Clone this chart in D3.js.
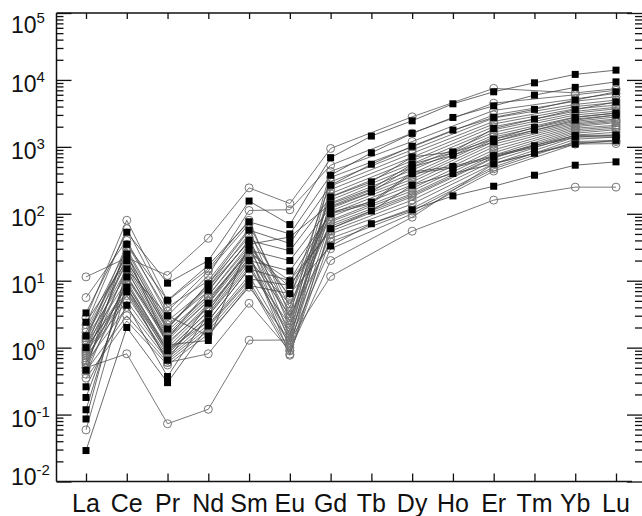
<!DOCTYPE html>
<html>
<head>
<meta charset="utf-8">
<script src="https://cdn.jsdelivr.net/npm/d3@7"></script>
<style>
  html, body { margin: 0; padding: 0; background: #fff; }
  svg { display: block; font-family: "Liberation Sans", Arial, sans-serif; }
</style>
</head>
<body>
<svg id="chart" width="642" height="516"></svg>
<script>
// Rare earth elements along the x axis
const elements = ["La", "Ce", "Pr", "Nd", "Sm", "Eu", "Gd", "Tb", "Dy", "Ho", "Er", "Tm", "Yb", "Lu"];

// Decade exponents used for the y tick labels
const decadeExponents = [5, 4, 3, 2, 1, 0, -1, -2];

// Open-circle analyses (Tb, Ho, Tm not determined)
//            La     Ce    Pr     Nd    Sm    Eu    Gd    Tb    Dy    Ho    Er    Tm    Yb    Lu
const circleSeries = [
  [11.4,  22,   12,    43,   244,  142,  946,  null, 2810, null, 7480, null, 6400, 7400],
  [5.6,   40,   3.0,   12,   112,  115,  532,  null, 1600, null, 4500, null, 6000, 7000],
  [2.8,   80,   5.0,   15,   80,   3.0,  430,  null, 1200, null, 3500, null, 5200, 6300],
  [2.2,   60,   4.0,   10,   60,   2.0,  350,  null, 1000, null, 3000, null, 4800, 5600],
  [1.9,   30,   2.5,   8,    50,   5.5,  300,  null, 900,  null, 2700, null, 4300, 5000],
  [1.7,   25,   2.0,   9,    45,   1.5,  260,  null, 800,  null, 2400, null, 4000, 4600],
  [1.5,   18,   1.6,   6,    35,   1.2,  230,  null, 700,  null, 2200, null, 3700, 4200],
  [1.4,   12,   1.3,   5,    30,   2.5,  200,  null, 620,  null, 2000, null, 3400, 3900],
  [1.3,   35,   3.5,   14,   70,   4.0,  180,  null, 560,  null, 1800, null, 3200, 3700],
  [1.2,   15,   1.1,   4.5,  25,   1.0,  160,  null, 500,  null, 1650, null, 3000, 3400],
  [1.1,   10,   0.9,   3.5,  22,   1.8,  145,  null, 450,  null, 1500, null, 2800, 3200],
  [1.0,   28,   2.2,   7,    40,   3.5,  130,  null, 400,  null, 1400, null, 2600, 3000],
  [0.95,  8,    0.8,   3,    18,   1.4,  120,  null, 360,  null, 1300, null, 2400, 2800],
  [0.9,   20,   1.8,   6,    32,   6.0,  110,  null, 330,  null, 1200, null, 2300, 2600],
  [0.85,  6,    0.75,  2.5,  15,   2.2,  100,  null, 300,  null, 1100, null, 2200, 2500],
  [0.8,   14,   1.4,   5,    28,   8.0,  90,   null, 270,  null, 1000, null, 2100, 2400],
  [0.75,  5,    0.7,   2.2,  12,   1.1,  80,   null, 240,  null, 900,  null, 2000, 2300],
  [0.7,   24,   2.0,   8,    38,   2.8,  76,   null, 220,  null, 820,  null, 1900, 2100],
  [0.65,  9,    1.0,   4,    20,   4.5,  70,   null, 200,  null, 750,  null, 1800, 2000],
  [0.6,   4,    0.65,  2.0,  10,   0.9,  60,   null, 180,  null, 680,  null, 1600, 1800],
  [0.55,  16,   1.5,   5.5,  26,   10,   55,   null, 160,  null, 620,  null, 1500, 1650],
  [0.5,   7,    0.85,  3.0,  16,   1.6,  50,   null, 140,  null, 560,  null, 1400, 1500],
  [0.45,  3,    0.6,   1.8,  9,    0.8,  43,   null, 120,  null, 500,  null, 1300, 1400],
  [0.4,   11,   1.2,   4.0,  22,   3.0,  38,   null, 110,  null, 470,  null, 1200, 1250],
  [0.35,  2.5,  0.55,  1.6,  8,    1.3,  30,   null, 100,  null, 435,  null, 1100, 1120],
  [0.6,   9,    0.9,   3.5,  25,   0.77, 65,   null, 190,  null, 700,  null, 1700, 1900],
  [0.059, 8,    0.6,   0.81, 4.6,  0.9,  20,   null, 89,   null, 560,  null, 1150, 1200],
  [0.5,   0.81, 0.073, 0.12, 1.29, 1.3,  11.6, null, 55,   null, 160,  null, 250,  250]
];

// Filled-square analyses (full REE suite)
//            La     Ce    Pr    Nd    Sm    Eu    Gd    Tb    Dy    Ho    Er    Tm    Yb     Lu
const squareSeries = [
  [3.3,   53,   9.2,  20,   155,  69,   690,  1450, 2450, 4400, 6650, 9050, 12100, 14000],
  [0.46,  35,   5.1,  17,   76,   50,   377,  815,  1590, 2750, 4100, 5930, 7740,  9350],
  [2.4,   20,   1.9,  9,    57,   36,   267,  550,  1020, 1780, 2750, 3630, 5000,  6650],
  [0.118, 11.4, 1.36, 7.2,  40,   28,   178,  300,  707,  840,  1880, 2600, 3600,  4700],
  [1.0,   6.8,  0.65, 4.6,  28.5, 20,   126,  212,  500,  750,  1190, 1780, 2510,  2980],
  [0.26,  4.3,  0.37, 3.2,  20,   14,   100,  142,  398,  485,  707,  995,  1410,  1410],
  [0.029, 2.0,  0.30, 2.1,  10.7, 8.5,  60,   110,  267,  400,  560,  800,  1100,  1250],
  [0.086, 15,   3.0,  1.5,  8.5,  6.4,  33,   71,   115,  185,  258,  377,  532,   597],
  [1.5,   25,   1.1,  1.28, 35,   45,   140,  235,  550,  820,  1300, 1950, 2750,  3200],
  [0.18,  8,    0.9,  2.5,  15,   10,   105,  150,  420,  510,  740,  1040, 1480,  1500]
];

const svg = d3.select("#chart");
const frameLeft = 56.5, frameRight = 632, frameTop = 13, frameBottom = 481.5, rightTicksX = 642;

const x = d3.scalePoint().domain(elements).range([86, 616]);
const y = d3.scaleLog().domain([1e-2, 1e5]).range([frameBottom, frameTop]);

const majorTicks = decadeExponents.map(e => Math.pow(10, e));
const minorTicks = [];
for (let e = -2; e < 5; e++) {
  for (let m = 2; m <= 9; m++) minorTicks.push(m * Math.pow(10, e));
}

function styleTicks(g) {
  g.select(".domain").remove();
  g.selectAll(".tick line").attr("stroke", "#111").attr("stroke-width", 1.3);
}

// Left axis: inward major and minor ticks
svg.append("g").attr("transform", `translate(${frameLeft},0)`)
  .call(d3.axisRight(y).tickValues(majorTicks).tickSize(15).tickFormat(""))
  .call(styleTicks);
svg.append("g").attr("transform", `translate(${frameLeft},0)`)
  .call(d3.axisRight(y).tickValues(minorTicks).tickSize(7).tickFormat(""))
  .call(styleTicks);

// Right axis ticks
svg.append("g").attr("transform", `translate(${rightTicksX},0)`)
  .call(d3.axisLeft(y).tickValues(majorTicks).tickSize(15).tickFormat(""))
  .call(styleTicks);
svg.append("g").attr("transform", `translate(${rightTicksX},0)`)
  .call(d3.axisLeft(y).tickValues(minorTicks).tickSize(7).tickFormat(""))
  .call(styleTicks);

// Bottom and top category ticks
svg.append("g").attr("transform", `translate(0,${frameBottom})`)
  .call(d3.axisTop(x).tickSize(8).tickFormat(""))
  .call(styleTicks);
svg.append("g").attr("transform", `translate(0,${frameTop})`)
  .call(d3.axisBottom(x).tickSize(6).tickFormat(""))
  .call(styleTicks);

// Frame lines
const frame = svg.append("g").attr("stroke", "#111").attr("stroke-width", 1.5);
frame.append("line").attr("x1", frameLeft).attr("x2", frameLeft).attr("y1", frameTop).attr("y2", frameBottom);
frame.append("line").attr("x1", frameLeft).attr("x2", frameRight).attr("y1", frameTop).attr("y2", frameTop);
frame.append("line").attr("x1", frameLeft).attr("x2", frameRight).attr("y1", frameBottom).attr("y2", frameBottom);

// Y labels as powers of ten
const labelShift = { "5": 20, "-2": 3 };
decadeExponents.forEach(e => {
  const shift = labelShift[String(e)] !== undefined ? labelShift[String(e)] : 12;
  const t = svg.append("text")
    .attr("x", 11)
    .attr("y", y(Math.pow(10, e)) + shift)
    .attr("font-size", 23)
    .attr("fill", "#111");
  t.append("tspan").text("10");
  t.append("tspan").attr("font-size", 15).attr("dy", -10).text(String(e));
});

// X labels
svg.append("g").selectAll("text").data(elements).join("text")
  .attr("x", d => x(d))
  .attr("y", 512)
  .attr("text-anchor", "middle")
  .attr("font-size", 25)
  .attr("fill", "#111")
  .text(d => d);

const toPoints = row => row.map((v, i) => ({ el: elements[i], v })).filter(p => p.v !== null);
const line = d3.line().x(p => x(p.el)).y(p => y(p.v));

const plot = svg.append("g");

// Connecting lines
plot.append("g").selectAll("path").data(circleSeries).join("path")
  .attr("d", r => line(toPoints(r)))
  .attr("fill", "none").attr("stroke", "#555").attr("stroke-width", 0.8);
plot.append("g").selectAll("path").data(squareSeries).join("path")
  .attr("d", r => line(toPoints(r)))
  .attr("fill", "none").attr("stroke", "#444").attr("stroke-width", 0.8);

// Open circle markers
plot.append("g").selectAll("g").data(circleSeries).join("g")
  .selectAll("circle").data(r => toPoints(r)).join("circle")
  .attr("cx", p => x(p.el)).attr("cy", p => y(p.v)).attr("r", 4)
  .attr("fill", "none").attr("stroke", "#777").attr("stroke-width", 1);

// Filled square markers
const sq = 7;
plot.append("g").selectAll("g").data(squareSeries).join("g")
  .selectAll("rect").data(r => toPoints(r)).join("rect")
  .attr("x", p => x(p.el) - sq / 2).attr("y", p => y(p.v) - sq / 2)
  .attr("width", sq).attr("height", sq)
  .attr("fill", "#000");
</script>
</body>
</html>
